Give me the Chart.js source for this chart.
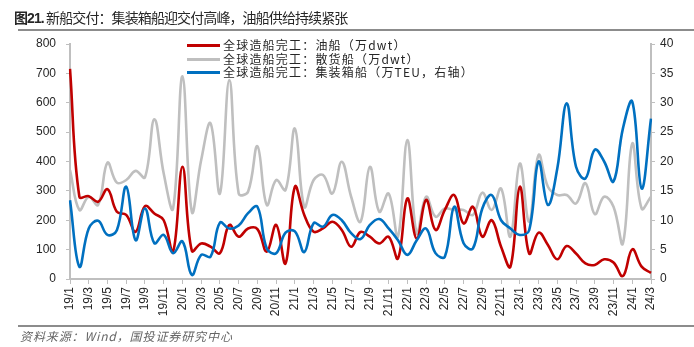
<!DOCTYPE html>
<html><head><meta charset="utf-8">
<script src="https://cdn.jsdelivr.net/npm/chart.js@4"></script>
<style>
html,body{margin:0;padding:0;background:#fff;}
#wrap{position:relative;width:694px;height:347px;overflow:hidden;background:#fff;}
#c{position:absolute;left:0;top:0;}
#title{position:absolute;left:14px;top:7px;font-family:"Noto Sans CJK SC",sans-serif;font-size:14px;letter-spacing:-0.9px;color:#262626;white-space:nowrap;}
#title b{font-family:"Liberation Sans","Noto Sans CJK SC",sans-serif;}
#tline{position:absolute;left:18px;top:29px;width:676px;height:2px;background:#8c8c8c;}
#fline{position:absolute;left:18px;top:325px;width:676px;height:2px;background:#8c8c8c;}
#foot{position:absolute;left:20px;top:327px;font-family:"Noto Sans CJK SC",sans-serif;font-size:12px;font-style:italic;letter-spacing:0.9px;color:#666;white-space:nowrap;}
#legend{position:absolute;left:187px;top:38px;font-family:"Noto Sans CJK SC",sans-serif;font-size:12px;letter-spacing:1.2px;color:#262626;}
.row{position:relative;height:13.5px;line-height:13.5px;white-space:nowrap;}
.sw{display:inline-block;width:33px;height:3px;vertical-align:middle;margin-right:3px;position:relative;top:-1px;}
</style></head>
<body><div id="wrap">
<canvas id="c" width="694" height="347"></canvas>
<div id="title"><b>图21.</b> 新船交付：集装箱船迎交付高峰，油船供给持续紧张</div>
<div id="tline"></div>
<div id="legend"></div>
<div id="fline"></div>
<div id="foot">资料来源：Wind，国投证券研究中心</div>
</div>
<script>
const categories = ['19/1','19/2','19/3','19/4','19/5','19/6','19/7','19/8','19/9','19/10','19/11','19/12',
'20/1','20/2','20/3','20/4','20/5','20/6','20/7','20/8','20/9','20/10','20/11','20/12',
'21/1','21/2','21/3','21/4','21/5','21/6','21/7','21/8','21/9','21/10','21/11','21/12',
'22/1','22/2','22/3','22/4','22/5','22/6','22/7','22/8','22/9','22/10','22/11','22/12',
'23/1','23/2','23/3','23/4','23/5','23/6','23/7','23/8','23/9','23/10','23/11','23/12',
'24/1','24/2','24/3'];
const seriesNames = ['全球造船完工：油船（万dwt）','全球造船完工：散货船（万dwt）','全球造船完工：集装箱船（万TEU，右轴）'];
const oilTanker = [715,280,282,263,306,229,218,161,248,223,200,93,382,96,121,110,
88,184,144,172,170,93,184,53,314,218,161,172,195,167,110,160,
144,121,144,70,274,138,269,167,235,286,189,246,144,200,110,
42,314,87,158,116,67,112,87,53,48,67,56,10,101,42,21];
const bulkCarrier = [371,235,280,252,396,328,337,368,346,544,359,240,690,229,405,530,
291,677,291,297,452,252,337,303,512,246,337,354,291,399,280,195,
382,229,291,144,473,155,280,212,240,235,235,218,294,235,308,
144,393,195,422,314,286,286,257,326,221,280,246,121,461,240,280];
const containerShip = [13.4,2.1,8.6,9.9,7.5,8.3,15.7,6.6,12.0,6.1,7.5,4.4,6.4,0.7,4.1,3.8,
9.6,8.6,9.1,11.2,12.3,5.2,4.4,7.9,8.1,4.6,9.5,8.9,10.9,10.0,7.8,6.8,
9.2,10.2,8.6,6.6,4.1,6.6,8.6,4.4,3.8,12.3,6.1,5.2,12.0,14.3,10.0,
8.6,7.5,8.3,20.0,12.6,18.8,29.9,19.1,17.1,22.0,20.0,16.6,25.6,30.2,15.4,27.3];
const leftTicks = [0,100,200,300,400,500,600,700,800];
const rightTicks = [0,5,10,15,20,25,30,35,40];
const colors = ['#C00000','#BFBFBF','#0070C0'];

const lg = document.getElementById('legend');
seriesNames.forEach((n,i)=>{
  const r = document.createElement('div'); r.className='row';
  const s = document.createElement('span'); s.className='sw'; s.style.background=colors[i];
  r.appendChild(s); r.appendChild(document.createTextNode(n)); lg.appendChild(r);
});

const tickFont = {family:'"Liberation Sans", Arial, sans-serif', size:12};
const axisCol = '#BFBFBF';
new Chart(document.getElementById('c'), {
  type:'line',
  data:{labels:categories, datasets:[
    {label:seriesNames[0], data:oilTanker, borderColor:colors[0], yAxisID:'y', order:2},
    {label:seriesNames[1], data:bulkCarrier, borderColor:colors[1], yAxisID:'y', order:3},
    {label:seriesNames[2], data:containerShip, borderColor:colors[2], yAxisID:'y2', order:1}
  ]},
  options:{
    responsive:false, animation:false, devicePixelRatio:1,
    layout:{padding:{left:0,right:0,top:44,bottom:0}},
    elements:{line:{borderWidth:2.6, tension:0.4, fill:false}, point:{radius:0}},
    plugins:{legend:{display:false}, tooltip:{enabled:false}, title:{display:false}},
    scales:{
      x:{type:'category', offset:false,
        grid:{display:true, drawOnChartArea:false, drawTicks:true, tickLength:5,
          color:(ctx)=> (ctx.index%2===0 ? axisCol : 'rgba(0,0,0,0)')},
        border:{display:true,color:axisCol,width:2},
        ticks:{autoSkip:false, maxRotation:90, minRotation:90, padding:3, font:tickFont, color:'#262626',
          callback:(v,i)=> (i%2===0 ? categories[i] : '')},
        afterFit:(s)=>{s.height=68;}
      },
      y:{position:'left', min:leftTicks[0], max:leftTicks[leftTicks.length-1],
        afterBuildTicks:(s)=>{s.ticks = leftTicks.map(v=>({value:v}));},
        grid:{display:true, drawOnChartArea:false, drawTicks:true, tickLength:4, color:axisCol},
        border:{display:true,color:axisCol,width:2},
        ticks:{padding:10, font:tickFont, color:'#262626'},
        afterFit:(s)=>{s.width=70;}
      },
      y2:{position:'right', min:rightTicks[0], max:rightTicks[rightTicks.length-1],
        afterBuildTicks:(s)=>{s.ticks = rightTicks.map(v=>({value:v}));},
        grid:{display:true, drawOnChartArea:false, drawTicks:true, tickLength:4, color:axisCol},
        border:{display:true,color:axisCol,width:2},
        ticks:{padding:5, font:tickFont, color:'#262626'},
        afterFit:(s)=>{s.width=43;}
      }
    }
  }
});
</script>
</body></html>
